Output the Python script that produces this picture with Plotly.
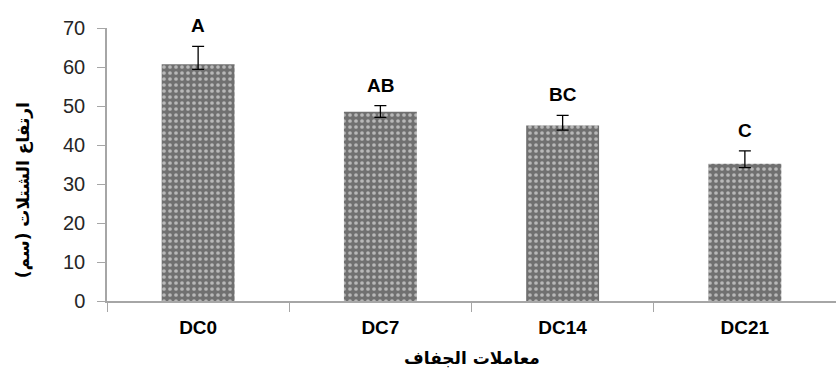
import plotly.graph_objects as go

# Plant height by drought treatment
treatments = ["DC0", "DC7", "DC14", "DC21"]
height_cm = [60.7, 48.5, 45.0, 35.2]
err_up = [4.6, 1.6, 2.6, 3.3]
err_down = [1.3, 1.4, 1.2, 1.0]
groups = ["A", "AB", "BC", "C"]

axis_grey = "#a6a6a6"
text_dark = "#262626"

fig = go.Figure()
fig.add_trace(go.Bar(
    x=treatments,
    y=height_cm,
    marker=dict(
        color="#6c6c6c",
        line=dict(width=0),
        pattern=dict(shape=".", fgcolor="white", bgcolor="#707070",
                     size=6, solidity=0.3, fillmode="overlay"),
    ),
    error_y=dict(type="data", symmetric=False, array=err_up,
                 arrayminus=err_down, color="black", thickness=1.3, width=6),
    width=0.4,
))

for t, v, e, g in zip(treatments, height_cm, err_up, groups):
    fig.add_annotation(x=t, y=v + e, text=f"<b>{g}</b>", showarrow=False,
                       yanchor="bottom", yshift=8,
                       font=dict(family="Liberation Sans", size=19, color="black"))

fig.add_annotation(xref="paper", yref="paper", x=(23 - 107) / 729,
                   y=(300.7 - 190) / 272.7,
                   text="<b>ارتفاع الشتلات (سم)</b>", textangle=-90, showarrow=False,
                   xanchor="center", yanchor="middle",
                   font=dict(family="DejaVu Sans", size=17, color="black"))
fig.add_annotation(xref="paper", yref="paper", x=0.5, y=0,
                   yshift=-57, text="<b>معاملات الجفاف</b>", showarrow=False,
                   xanchor="center", yanchor="middle",
                   font=dict(family="DejaVu Sans", size=17, color="black"))

fig.update_layout(
    width=836, height=377,
    margin=dict(l=107, r=0, t=28, b=76),
    paper_bgcolor="white", plot_bgcolor="white",
    showlegend=False,
)
fig.update_xaxes(
    showline=True, linecolor=axis_grey, linewidth=1.5,
    ticks="outside", tickson="boundaries", ticklen=9, tickcolor=axis_grey,
    tickfont=dict(family="Liberation Sans", size=19, color="black"),
    tickprefix="<b>", ticksuffix="</b>", ticklabelstandoff=8,
    showgrid=False, zeroline=False,
)
fig.update_yaxes(
    range=[0, 70], dtick=10,
    showline=True, linecolor=axis_grey, linewidth=1.5,
    ticks="outside", ticklen=8, tickcolor=axis_grey,
    tickfont=dict(family="Liberation Sans", size=20, color=text_dark),
    ticklabelstandoff=8,
    showgrid=False, zeroline=False,
)

fig.write_html("out.html")
